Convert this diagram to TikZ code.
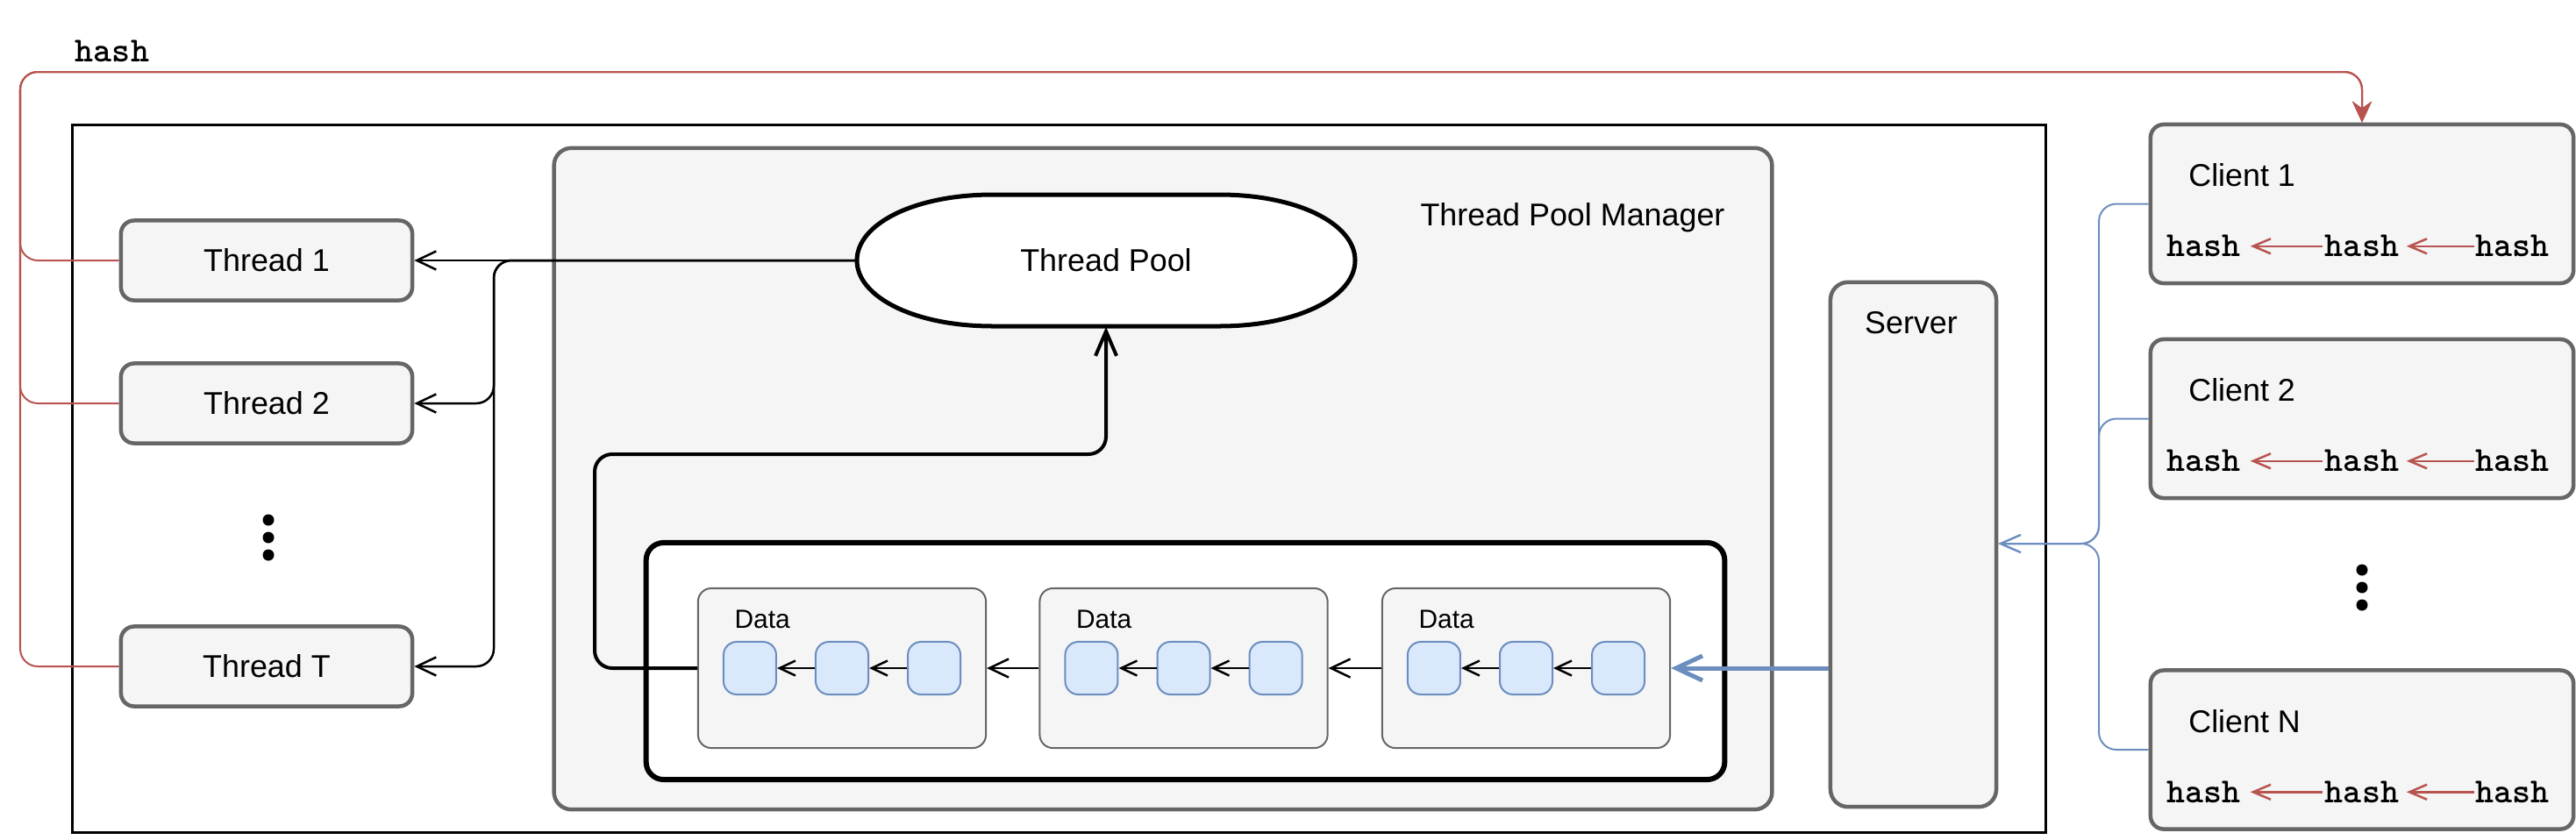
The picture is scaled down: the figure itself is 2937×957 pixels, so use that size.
\documentclass[tikz,border=0pt]{standalone}
\usepackage{fontspec}
\setmainfont{Liberation Sans}
\usetikzlibrary{arrows.meta}
\definecolor{boxfill}{HTML}{F5F5F5}
\definecolor{boxline}{HTML}{666666}
\definecolor{redline}{HTML}{B85450}
\definecolor{blueline}{HTML}{6C8EBF}
\definecolor{bluefill}{HTML}{DAE8FC}
\tikzset{
  graybox/.style={draw=boxline, fill=boxfill, line width=0.045cm, rounded corners=0.15cm, inner sep=0pt},
  threadbox/.style={graybox, minimum width=3.32cm, minimum height=0.91cm, font=\fontsize{10.2pt}{12pt}\selectfont},
  clientbox/.style={graybox, minimum width=4.82cm, minimum height=1.81cm},
  databox/.style={draw=boxline, fill=boxfill, line width=0.02cm, rounded corners=0.15cm, minimum width=3.28cm, minimum height=1.82cm, inner sep=0pt},
  cell/.style={draw=blueline, fill=bluefill, line width=0.02cm, rounded corners=0.15cm, minimum width=0.6cm, minimum height=0.6cm, inner sep=0pt},
  lbl/.style={font=\fontsize{10.2pt}{12pt}\selectfont, inner sep=0pt},
  datalbl/.style={font=\fontsize{8.5pt}{10pt}\selectfont, inner sep=0pt, anchor=west},
  hashtxt/.style={font=\ttfamily\bfseries\fontsize{11.4pt}{13pt}\selectfont, inner sep=0pt},
  dot/.style={circle, fill=black, inner sep=0pt, minimum size=0.13cm},
  openarrow/.style={-{Straight Barb[length=0.22cm,width=0.21cm]}},
  blk/.style={draw=black, line width=0.025cm, openarrow, rounded corners=0.2cm},
  cellarrow/.style={draw=black, line width=0.025cm, -{Straight Barb[length=0.18cm,width=0.17cm]}},
  redc/.style={draw=redline, line width=0.02cm, rounded corners=0.2cm, -{Stealth[length=0.24cm,width=0.22cm]}},
  redsmall/.style={draw=redline, line width=0.025cm, -{Straight Barb[length=0.2cm,width=0.17cm]}},
  bluec/.style={draw=blueline, line width=0.02cm, rounded corners=0.2cm, -{Straight Barb[length=0.23cm,width=0.2cm]}},
}
\begin{document}
\begin{tikzpicture}[x=0.01cm, y=-0.01cm]
\useasboundingbox (0,0) rectangle (2937,957);
% outer frame
\node[draw=black, line width=0.03cm, minimum width=22.49cm, minimum height=8.06cm, inner sep=0pt] (outer) at (1207.5,546) {};
% manager
\node[graybox, rounded corners=0.2cm, minimum width=13.88cm, minimum height=7.54cm] (mgr) at (1326,546) {};
\node[lbl] (mgrlbl) at (1793,248) {Thread Pool Manager};
% queue
\node[draw=black, line width=0.06cm, rounded corners=0.2cm, fill=white, minimum width=12.29cm, minimum height=2.70cm, inner sep=0pt] (queue) at (1351.5,754) {};
% thread pool shape
\draw[line width=0.05cm, fill=white] (1132,222) -- (1390,222) .. controls (1480,222) and (1545,255.6) .. (1545,297) .. controls (1545,338.4) and (1480,372) .. (1390,372) -- (1132,372) .. controls (1042,372) and (977,338.4) .. (977,297) .. controls (977,255.6) and (1042,222) .. (1132,222) -- cycle;
\node[lbl, minimum width=5.68cm, minimum height=1.5cm] (pool) at (1261,297) {Thread Pool};
% data boxes
\node[databox] (d1) at (960,762) {};
\node[databox] (d2) at (1349.5,762) {};
\node[databox] (d3) at (1740,762) {};
\node[datalbl] (dl1) at ([xshift=0.42cm,yshift=-0.36cm]d1.north west) {Data};
\node[datalbl] (dl2) at ([xshift=0.42cm,yshift=-0.36cm]d2.north west) {Data};
\node[datalbl] (dl3) at ([xshift=0.42cm,yshift=-0.36cm]d3.north west) {Data};
\foreach \b in {1,2,3}{
  \node[cell] (c\b a) at ([xshift=-1.05cm]d\b.center) {};
  \node[cell] (c\b b) at (d\b.center) {};
  \node[cell] (c\b c) at ([xshift=1.05cm]d\b.center) {};
  \draw[cellarrow] (c\b c.west) -- (c\b b.east);
  \draw[cellarrow] (c\b b.west) -- (c\b a.east);
}
\draw[blk] (d2.west) -- (d1.east);
\draw[blk] (d3.west) -- (d2.east);
% server
\node[graybox, rounded corners=0.2cm, minimum width=1.89cm, minimum height=5.98cm] (server) at (2181.5,621) {};
\node[lbl] (serverlbl) at (2179,368) {Server};
\draw[draw=blueline, line width=0.05cm, -{Straight Barb[length=0.3cm,width=0.28cm]}] (server.west |- d3.east) -- (d3.east);
% threads
\node[threadbox] (t1) at (304,297) {Thread 1};
\node[threadbox] (t2) at (304,460) {Thread 2};
\node[threadbox] (tT) at (304,760) {Thread T};
\node[dot] (ld1) at (306,593) {};
\node[dot] (ld2) at (306,613) {};
\node[dot] (ld3) at (306,633) {};
% pool -> threads
\coordinate (bus) at (563,297);
\draw[blk] (pool.west) -- (t1.east);
\draw[blk] (pool.west) -- (bus) -- (bus |- t2.east) -- (t2.east);
\draw[blk] (pool.west) -- (bus) -- (bus |- tT.east) -- (tT.east);
% thick connector from queue to pool
\coordinate (tk) at (678,518);
\draw[line width=0.04cm, rounded corners=0.2cm, -{Straight Barb[length=0.28cm,width=0.24cm]}] (d1.west) -| (tk) -| (pool.south);
% clients
\node[clientbox] (cl1) at (2693,232.5) {};
\node[clientbox] (cl2) at (2693,477.5) {};
\node[clientbox] (clN) at (2693,855) {};
\node[lbl, anchor=west] (cl1lbl) at ([xshift=0.45cm,yshift=-0.60cm]cl1.north west) {Client 1};
\node[lbl, anchor=west] (cl2lbl) at ([xshift=0.45cm,yshift=-0.60cm]cl2.north west) {Client 2};
\node[lbl, anchor=west] (clNlbl) at ([xshift=0.45cm,yshift=-0.60cm]clN.north west) {Client N};
\foreach \c in {cl1,cl2,clN}{
  \node[hashtxt] (\c h1) at ([xshift=-1.80cm,yshift=-1.41cm]\c.north) {hash};
  \node[hashtxt] (\c h2) at ([yshift=-1.41cm]\c.north) {hash};
  \node[hashtxt] (\c h3) at ([xshift=1.71cm,yshift=-1.41cm]\c.north) {hash};
  \draw[redsmall, shorten >=0.08cm] (\c h3.west) -- (\c h2.east);
  \draw[redsmall, shorten >=0.1cm, shorten <=0.02cm] (\c h2.west) -- (\c h1.east);
}
\node[dot] (rd1) at (2693,650) {};
\node[dot] (rd2) at (2693,670) {};
\node[dot] (rd3) at (2693,690) {};
% blue client connectors
\coordinate (bj) at (2393,620);
\draw[bluec] (cl1.west) -| (bj) -- (server.east |- bj);
\draw[bluec] (cl2.west) -| (bj) -- (server.east |- bj);
\draw[bluec] (clN.west) -| (bj) -- (server.east |- bj);
% red hash connectors
\node[hashtxt, anchor=base] (hashlbl) at (128,70) {hash};
\coordinate (rl) at (23,82);
\draw[redc] (t1.west) -| (rl) -| (cl1.north);
\draw[redc] (t2.west) -| (rl) -| (cl1.north);
\draw[redc] (tT.west) -| (rl) -| (cl1.north);
\end{tikzpicture}
\end{document}
